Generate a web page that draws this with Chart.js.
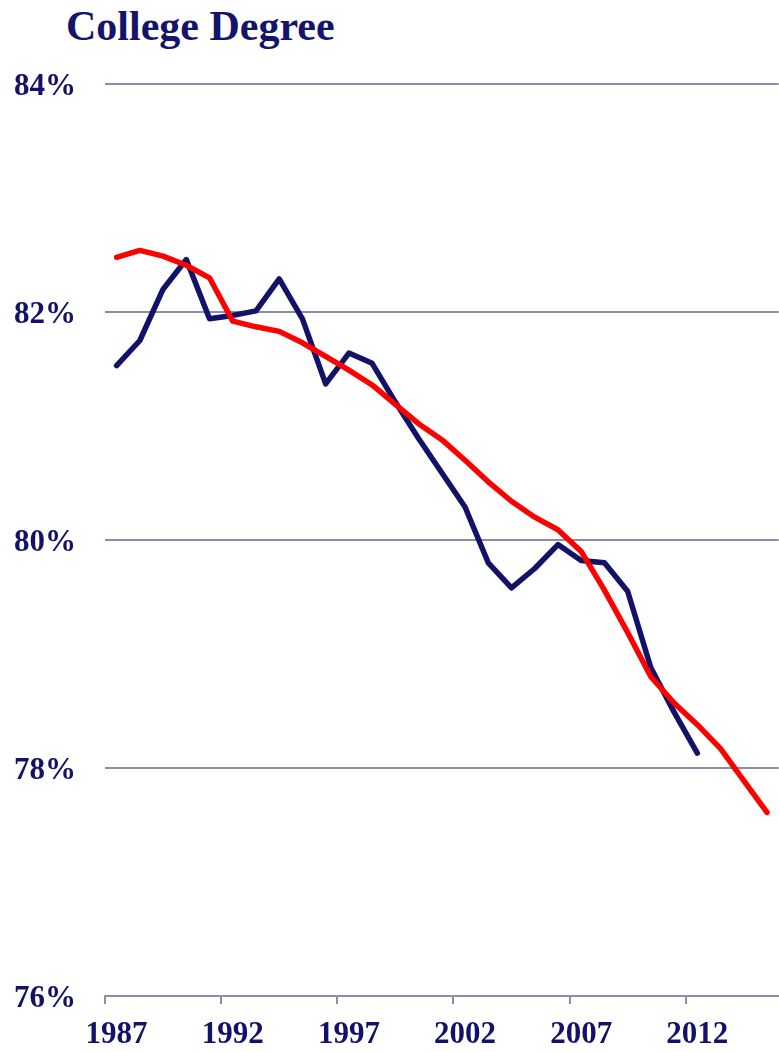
<!DOCTYPE html>
<html>
<head>
<meta charset="utf-8">
<script src="https://cdn.jsdelivr.net/npm/chart.js@4/dist/chart.umd.min.js"></script>
<style>
  body { margin: 0; background: #fff; }
  #wrap { position: relative; width: 779px; height: 1052px; }
  #titulo {
    position: absolute; left: 66px; top: 2px; margin: 0;
    font: bold 42px "Liberation Serif", "Times New Roman", serif;
    color: #14146b;
  }
  #grafico { position: absolute; left: 0; top: 0; }
</style>
</head>
<body>
<div id="wrap">
  <h1 id="titulo">College Degree</h1>
  <canvas id="grafico" width="779" height="1052"></canvas>
</div>
<script>
const anos = [];
for (let a = 1987; a <= 2015; a++) anos.push(String(a));

// serie anual observada (ate 2012)
const observado = [
  81.53, 81.75, 82.20, 82.46, 81.94, 81.97, 82.01, 82.29, 81.94, 81.37,
  81.64, 81.55, 81.21, 80.89, 80.59, 80.29, 79.80, 79.58, 79.75, 79.96,
  79.82, 79.80, 79.55, 78.88, 78.49, 78.13
];

// tendencia suavizada (ate 2015)
const tendencia = [
  82.48, 82.54, 82.49, 82.41, 82.30, 81.92, 81.87, 81.83, 81.73, 81.61,
  81.49, 81.36, 81.19, 81.02, 80.88, 80.70, 80.51, 80.34, 80.20, 80.09,
  79.90, 79.56, 79.19, 78.80, 78.57, 78.38, 78.17, 77.89, 77.61
];

const yTicks = [76, 78, 80, 82, 84];

const azul = "#121268";
const cinza = "#8d8daa";
const fonte = { family: "'Liberation Serif', 'Times New Roman', serif", size: 31, weight: "bold" };

new Chart(document.getElementById("grafico"), {
  type: "line",
  data: {
    labels: anos,
    datasets: [
      {
        label: "Tendência",
        data: tendencia,
        borderColor: "#ff0000",
        borderWidth: 5.5,
        pointRadius: 0,
        borderJoinStyle: "round",
        borderCapStyle: "round",
        tension: 0
      },
      {
        label: "Observado",
        data: observado,
        borderColor: azul,
        borderWidth: 5.5,
        pointRadius: 0,
        borderJoinStyle: "round",
        borderCapStyle: "round",
        tension: 0
      }
    ]
  },
  options: {
    responsive: false,
    animation: false,
    layout: { padding: { top: 84, left: 14, right: 0, bottom: 0 } },
    plugins: { legend: { display: false }, tooltip: { enabled: false } },
    scales: {
      x: {
        offset: true,
        afterFit: axis => { axis.height = 56; },
        grid: {
          offset: true,
          drawOnChartArea: false,
          tickLength: 8,
          lineWidth: 2,
          color: ctx => (ctx.index % 5 === 0 ? cinza : "rgba(0,0,0,0)")
        },
        border: { display: true, color: cinza, width: 2 },
        ticks: {
          autoSkip: false,
          maxRotation: 0,
          padding: 12,
          color: azul,
          font: fonte,
          callback: (v, i) => ((i % 5 === 0) ? anos[i] : "")
        }
      },
      y: {
        min: yTicks[0],
        max: yTicks[yTicks.length - 1],
        afterFit: axis => { axis.width = 91; },
        afterBuildTicks: axis => { axis.ticks = yTicks.map(v => ({ value: v })); },
        grid: { color: cinza, lineWidth: 2, drawTicks: false },
        border: { display: false },
        ticks: {
          padding: 29,
          labelOffset: 3,
          color: azul,
          font: fonte,
          callback: v => v + "%"
        }
      }
    }
  }
});
</script>
</body>
</html>
